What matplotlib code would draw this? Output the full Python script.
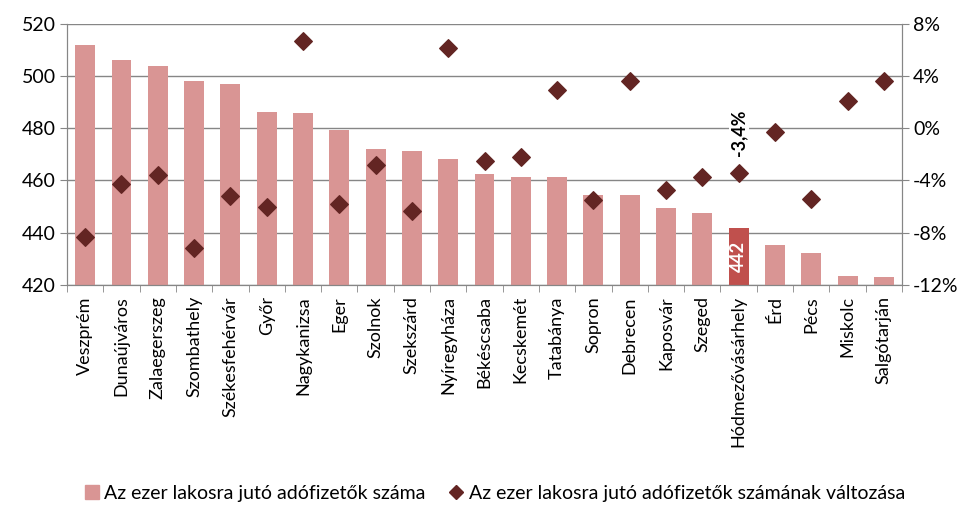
import matplotlib
matplotlib.use("Agg")
from matplotlib import pyplot as plt
from matplotlib.lines import Line2D
from matplotlib.patches import Patch
import numpy as np

plt.rcParams['font.family'] = ['Lato', 'DejaVu Sans']

cities = ["Veszprém", "Dunaújváros", "Zalaegerszeg", "Szombathely", "Székesfehérvár",
          "Győr", "Nagykanizsa", "Eger", "Szolnok", "Szekszárd", "Nyíregyháza",
          "Békéscsaba", "Kecskemét", "Tatabánya", "Sopron", "Debrecen", "Kaposvár",
          "Szeged", "Hódmezővásárhely", "Érd", "Pécs", "Miskolc", "Salgótarján"]
taxpayers = [511.8, 506.1, 503.8, 498.1, 497.0, 486.3, 485.9, 479.3, 472.1, 471.3, 468.2,
             462.6, 461.4, 461.4, 454.4, 454.4, 449.4, 447.5, 442.0, 435.3, 432.3, 423.5, 423.1]
change = [-8.3, -4.3, -3.6, -9.2, -5.2, -6.0, 6.7, -5.8, -2.8, -6.3, 6.1,
          -2.5, -2.2, 2.9, -5.5, 3.6, -4.7, -3.7, -3.4, -0.3, -5.4, 2.1, 3.6]
highlight = "Hódmezővásárhely"

bar_color = "#D99594"
hl_color = "#C0504D"
dia_color = "#632523"
grid_color = "#868686"

fig = plt.figure(figsize=(9.8, 5.25), dpi=100)
ax = fig.add_axes([0.0684, 0.457, 0.852, 0.498])
ax2 = ax.twinx()

x = np.arange(len(cities))
colors = [hl_color if c == highlight else bar_color for c in cities]
ax.bar(x, np.array(taxpayers) - 420, bottom=420, width=0.55, color=colors, zorder=2)
ax.set_ylim(420, 520)
ax.set_yticks(np.arange(420, 521, 20))
ax.set_xlim(-0.5, len(cities) - 0.5)
ax.grid(axis="y", color=grid_color, linewidth=1, zorder=0)
ax.set_axisbelow(True)

ax2.scatter(x, change, marker="D", s=80, color=dia_color, zorder=3)
ax2.set_ylim(-12, 8)
ax2.set_yticks(np.arange(-12, 9, 4))
ax2.set_yticklabels([f"{v}%" for v in range(-12, 9, 4)])

for a in (ax, ax2):
    a.spines["top"].set_visible(False)
    for s in ("left", "right", "bottom"):
        a.spines[s].set_color(grid_color)
ax.tick_params(axis="y", labelsize=14, length=5, color=grid_color, pad=3)
ax2.tick_params(axis="y", labelsize=14, length=5, color=grid_color, pad=3)

ax.set_xticks(x)
ax.set_xticklabels(cities, rotation=90, fontsize=13)
ax.set_xticks(np.arange(-0.5, len(cities), 1), minor=True)
ax.tick_params(axis="x", which="major", length=0, pad=8)
ax.tick_params(axis="x", which="minor", length=5, color=grid_color)

i = cities.index(highlight)
ax.text(i, 420 + (taxpayers[i] - 420) / 2, f"{taxpayers[i]:.0f}", rotation=90,
        ha="center", va="center", color="white", fontsize=13, fontweight="bold", zorder=4)
ax2.text(i, change[i] + 1.3, f"{change[i]:.1f}%".replace(".", ","), rotation=90,
         ha="center", va="bottom", color="black", fontsize=13, fontweight="bold",
         bbox=dict(facecolor="white", edgecolor="none", pad=1), zorder=4)

handles = [Patch(color=bar_color, label="Az ezer lakosra jutó adófizetők száma"),
           Line2D([], [], marker="D", linestyle="none", color=dia_color, markersize=7,
                  label="Az ezer lakosra jutó adófizetők számának változása")]
fig.legend(handles=handles, loc="center", bbox_to_anchor=(0.505, 0.06), ncol=2,
           frameon=False, fontsize=14, handlelength=0.7, handletextpad=0.3,
           columnspacing=1.2)

fig.savefig("out.png", dpi=100)
